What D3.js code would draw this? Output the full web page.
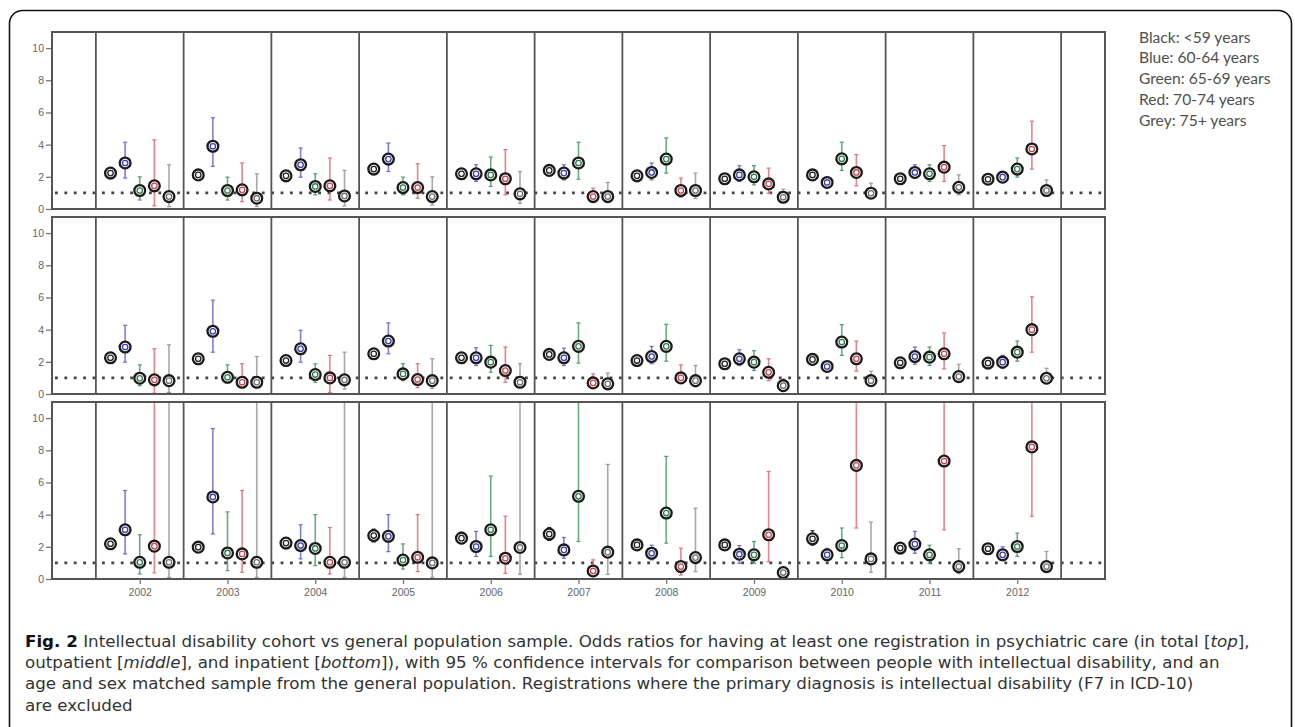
<!DOCTYPE html>
<html>
<head>
<meta charset="utf-8">
<script src="https://cdn.jsdelivr.net/npm/d3@7"></script>
<style>
  body { margin: 0; background: #fff; }
  svg { display: block; }
</style>
</head>
<body>
<svg id="chart"></svg>
<script>
const years = [2002, 2003, 2004, 2005, 2006, 2007, 2008, 2009, 2010, 2011, 2012];
const groups = ["Black", "Blue", "Green", "Red", "Grey"];
const legendLines = ["Black: <59 years", "Blue: 60-64 years", "Green: 65-69 years", "Red: 70-74 years", "Grey: 75+ years"];
const yTicks = [0, 2, 4, 6, 8, 10];

// total (top panel): one row per age group, one value per year
const totalOR = [
  [2.23, 2.12, 2.06, 2.48, 2.19, 2.4, 2.06, 1.88, 2.12, 1.88, 1.85],
  [2.86, 3.9, 2.75, 3.1, 2.19, 2.23, 2.27, 2.12, 1.65, 2.27, 1.98],
  [1.15, 1.15, 1.4, 1.33, 2.12, 2.86, 3.1, 2.0, 3.12, 2.19, 2.48],
  [1.44, 1.19, 1.44, 1.33, 1.88, 0.77, 1.15, 1.56, 2.27, 2.6, 3.73],
  [0.77, 0.67, 0.81, 0.77, 0.94, 0.77, 1.15, 0.73, 0.98, 1.35, 1.15]
];
const totalLo = [
  [2.0, 1.9, 1.85, 2.25, 1.95, 2.15, 1.85, 1.7, 1.9, 1.7, 1.65],
  [1.92, 2.65, 1.98, 2.33, 1.71, 1.81, 1.81, 1.71, 1.45, 1.92, 1.7],
  [0.56, 0.56, 0.88, 0.88, 1.4, 1.85, 2.23, 1.5, 2.4, 1.71, 1.98],
  [0.2, 0.46, 0.56, 0.67, 0.88, 0.56, 0.73, 0.98, 1.44, 1.71, 2.48],
  [0.15, 0.15, 0.19, 0.25, 0.35, 0.56, 0.65, 0.46, 0.73, 0.88, 0.81]
];
const totalHi = [
  [2.45, 2.35, 2.3, 2.7, 2.45, 2.65, 2.3, 2.05, 2.35, 2.05, 2.05],
  [4.15, 5.67, 3.79, 4.1, 2.75, 2.75, 2.86, 2.69, 1.9, 2.75, 2.3],
  [2.0, 1.98, 2.19, 1.98, 3.23, 4.15, 4.42, 2.69, 4.15, 2.75, 3.17],
  [4.3, 2.86, 3.17, 2.81, 3.69, 1.29, 1.92, 2.54, 3.38, 3.94, 5.46],
  [2.75, 2.19, 2.4, 2.0, 2.33, 1.65, 2.23, 1.23, 1.6, 2.12, 1.81]
];

// outpatient (middle panel)
const outOR = [
  [2.25, 2.19, 2.08, 2.5, 2.25, 2.46, 2.08, 1.88, 2.15, 1.94, 1.92],
  [2.92, 3.9, 2.81, 3.29, 2.25, 2.25, 2.33, 2.19, 1.71, 2.33, 1.98],
  [0.98, 1.04, 1.21, 1.25, 1.98, 2.96, 2.96, 1.98, 3.23, 2.29, 2.6],
  [0.88, 0.73, 1.0, 0.9, 1.46, 0.69, 1.0, 1.35, 2.19, 2.5, 4.0],
  [0.83, 0.73, 0.88, 0.83, 0.73, 0.63, 0.83, 0.52, 0.83, 1.08, 0.98]
];
const outLo = [
  [2.0, 1.95, 1.85, 2.25, 2.0, 2.2, 1.85, 1.7, 1.95, 1.75, 1.72],
  [1.98, 2.6, 1.98, 2.5, 1.77, 1.77, 1.88, 1.77, 1.5, 1.85, 1.6],
  [0.52, 0.69, 0.73, 0.83, 1.35, 1.92, 2.04, 1.46, 2.4, 1.77, 2.04],
  [0.05, 0.4, 0.1, 0.4, 0.73, 0.44, 0.73, 0.83, 1.42, 1.56, 2.6],
  [0.1, 0.4, 0.3, 0.35, 0.4, 0.4, 0.44, 0.3, 0.58, 0.8, 0.75]
];
const outHi = [
  [2.5, 2.45, 2.3, 2.75, 2.5, 2.7, 2.3, 2.05, 2.4, 2.15, 2.12],
  [4.27, 5.83, 3.96, 4.42, 2.87, 2.85, 2.96, 2.75, 1.95, 2.92, 2.4],
  [1.81, 1.81, 1.88, 1.88, 3.02, 4.42, 4.33, 2.69, 4.31, 2.92, 3.29],
  [2.81, 1.88, 2.4, 1.88, 2.92, 1.25, 1.81, 2.19, 3.29, 3.79, 6.04],
  [3.06, 2.33, 2.6, 2.19, 1.88, 1.3, 1.77, 0.94, 1.42, 1.85, 1.6]
];

// inpatient (bottom panel), upper limits of 15 run off the top of the panel
const inOR = [
  [2.19, 1.98, 2.23, 2.7, 2.54, 2.79, 2.12, 2.12, 2.5, 1.92, 1.88],
  [3.06, 5.1, 2.08, 2.65, 2.02, 1.81, 1.6, 1.54, 1.5, 2.17, 1.5],
  [1.04, 1.62, 1.9, 1.18, 3.06, 5.14, 4.1, 1.5, 2.08, 1.5, 2.02],
  [2.04, 1.56, 1.04, 1.35, 1.29, 0.5, 0.77, 2.75, 7.06, 7.33, 8.21],
  [1.04, 1.04, 1.04, 1.0, 1.96, 1.67, 1.33, 0.4, 1.25, 0.77, 0.77]
];
const inLo = [
  [1.9, 1.7, 1.95, 2.3, 2.2, 2.4, 1.9, 1.9, 2.1, 1.7, 1.6],
  [1.56, 2.8, 1.25, 1.7, 1.4, 1.29, 1.19, 0.98, 1.2, 1.6, 1.2],
  [0.31, 0.52, 0.83, 0.62, 1.4, 2.33, 2.23, 0.98, 1.33, 0.98, 1.4],
  [0.38, 0.42, 0.31, 0.46, 0.35, 0.15, 0.25, 1.08, 3.17, 3.06, 3.9],
  [0.1, 0.1, 0.1, 0.1, 0.29, 0.29, 0.46, 0.25, 0.42, 0.33, 0.46]
];
const inHi = [
  [2.5, 2.25, 2.5, 3.1, 2.9, 3.2, 2.4, 2.4, 3.0, 2.2, 2.2],
  [5.5, 9.35, 3.37, 4.0, 2.96, 2.58, 2.1, 2.08, 1.9, 2.96, 2.0],
  [2.75, 4.17, 4.0, 2.18, 6.4, 15, 7.62, 2.33, 3.17, 2.1, 2.85],
  [15, 5.5, 3.2, 4.0, 3.9, 1.19, 1.92, 6.68, 15, 15, 15],
  [15, 15, 15, 15, 15, 7.12, 4.4, 0.6, 3.54, 1.88, 1.71]
];

const captionLines = [
  [["b", "Fig. 2"], ["n", " Intellectual disability cohort vs general population sample. Odds ratios for having at least one registration in psychiatric care (in total ["], ["i", "top"], ["n", "],"]],
  [["n", "outpatient ["], ["i", "middle"], ["n", "], and inpatient ["], ["i", "bottom"], ["n", "]), with 95 % confidence intervals for comparison between people with intellectual disability, and an"]],
  [["n", "age and sex matched sample from the general population. Registrations where the primary diagnosis is intellectual disability (F7 in ICD-10)"]],
  [["n", "are excluded"]]
];

const width = 1295;
const height = 727;
const panelLeft = 52;
const panelRight = 1105;
const panelTops = [32, 217, 402];
const panelHeight = 177;

const markColor = ["#222222", "#3d3db0", "#2f7d4f", "#c8444f", "#6f6f6f"];
const barColor = ["#333333", "#6b6bd0", "#4f9f6c", "#e0707c", "#9a9a9a"];

const svg = d3.select("#chart").attr("width", width).attr("height", height);

// outer rounded frame
svg.append("rect")
  .attr("x", 9.5).attr("y", 10.5)
  .attr("width", 1282).attr("height", 730)
  .attr("rx", 13)
  .attr("fill", "none")
  .attr("stroke", "#111")
  .attr("stroke-width", 1.6);

const x = d3.scaleLinear().domain([2001, 2013]).range([panelLeft, panelRight]);

const panels = [
  { or: totalOR, lo: totalLo, hi: totalHi },
  { or: outOR, lo: outLo, hi: outHi },
  { or: inOR, lo: inLo, hi: inHi }
];

panels.forEach((p, pi) => {
  const top = panelTops[pi];
  const y = d3.scaleLinear().domain([0, 11]).range([top + panelHeight, top]);
  const g = svg.append("g");

  const clipId = "clip" + pi;
  svg.append("clipPath").attr("id", clipId)
    .append("rect")
    .attr("x", panelLeft).attr("y", top)
    .attr("width", panelRight - panelLeft).attr("height", panelHeight);

  // y axis
  const yAxis = d3.axisLeft(y).tickValues(yTicks).tickSize(6).tickPadding(2);
  const ay = g.append("g")
    .attr("transform", "translate(" + panelLeft + ",0)")
    .call(yAxis);
  ay.select(".domain").remove();
  ay.selectAll("line").attr("stroke", "#777").attr("stroke-width", 1.3);
  ay.selectAll("text")
    .attr("fill", "#666")
    .style("font-family", "'Liberation Sans', Arial, sans-serif")
    .style("font-size", "10.5px");

  // dotted reference line at 1
  g.append("line")
    .attr("x1", panelLeft + 3).attr("x2", panelRight - 2)
    .attr("y1", y(1)).attr("y2", y(1))
    .attr("stroke", "#444")
    .attr("stroke-width", 2.6)
    .attr("stroke-dasharray", "2.8,6.6");

  // year separators
  g.selectAll(".sep")
    .data(years.concat([2013]))
    .enter()
    .append("line")
    .attr("class", "sep")
    .attr("x1", (d) => x(d - 0.5)).attr("x2", (d) => x(d - 0.5))
    .attr("y1", top).attr("y2", top + panelHeight)
    .attr("stroke", "#555")
    .attr("stroke-width", 1.8);

  // points and intervals
  const pts = [];
  groups.forEach((grp, gi) => {
    years.forEach((yr, yi) => {
      pts.push({
        gi: gi,
        cx: x(yr + (gi - 2) / 6),
        or: p.or[gi][yi],
        lo: p.lo[gi][yi],
        hi: p.hi[gi][yi]
      });
    });
  });

  const bars = g.append("g").attr("clip-path", "url(#" + clipId + ")");
  bars.selectAll(".ci")
    .data(pts)
    .enter()
    .append("line")
    .attr("class", "ci")
    .attr("x1", (d) => d.cx).attr("x2", (d) => d.cx)
    .attr("y1", (d) => y(d.lo)).attr("y2", (d) => y(d.hi))
    .attr("stroke", (d) => barColor[d.gi])
    .attr("stroke-width", 1.6)
    .attr("opacity", 0.85);

  ["lo", "hi"].forEach((k) => {
    bars.selectAll(".cap" + k)
      .data(pts)
      .enter()
      .append("line")
      .attr("x1", (d) => d.cx - 2).attr("x2", (d) => d.cx + 2)
      .attr("y1", (d) => y(d[k])).attr("y2", (d) => y(d[k]))
      .attr("stroke", (d) => barColor[d.gi])
      .attr("stroke-width", 1.2);
  });

  g.selectAll(".pt")
    .data(pts)
    .enter()
    .append("circle")
    .attr("cx", (d) => d.cx).attr("cy", (d) => y(d.or))
    .attr("r", 5.4)
    .attr("fill", "#fff")
    .attr("stroke", "#1a1a1a")
    .attr("stroke-width", 2.3);

  g.selectAll(".pti")
    .data(pts)
    .enter()
    .append("circle")
    .attr("cx", (d) => d.cx).attr("cy", (d) => y(d.or))
    .attr("r", 2.7)
    .attr("fill", "none")
    .attr("stroke", (d) => markColor[d.gi])
    .attr("stroke-width", 1.3);

  // panel border
  g.append("rect")
    .attr("x", panelLeft).attr("y", top)
    .attr("width", panelRight - panelLeft).attr("height", panelHeight)
    .attr("fill", "none")
    .attr("stroke", "#555")
    .attr("stroke-width", 2);

  // x axis under bottom panel
  if (pi === 2) {
    const xAxis = d3.axisBottom(x).tickValues(years).tickFormat(d3.format("d")).tickSize(5).tickPadding(5);
    const ax = g.append("g")
      .attr("transform", "translate(0," + (top + panelHeight) + ")")
      .call(xAxis);
    ax.select(".domain").remove();
    ax.selectAll("line").attr("stroke", "#777").attr("stroke-width", 1.3);
    ax.selectAll("text")
      .attr("fill", "#666")
      .style("font-family", "'Liberation Sans', Arial, sans-serif")
      .style("font-size", "10.5px");
  }
});

// legend
svg.append("g")
  .selectAll("text")
  .data(legendLines)
  .enter()
  .append("text")
  .attr("x", 1139)
  .attr("y", (d, i) => 42.5 + i * 20.8)
  .attr("fill", "#505050")
  .style("font-family", "Lato, sans-serif")
  .style("font-size", "15.6px")
  .text((d) => d);

// caption
const cap = svg.append("g")
  .style("font-family", "'DejaVu Sans', sans-serif")
  .style("font-size", "16.7px")
  .attr("fill", "#333");

captionLines.forEach((line, li) => {
  const t = cap.append("text")
    .attr("x", 25)
    .attr("y", 647 + li * 21.2);
  line.forEach((part) => {
    t.append("tspan")
      .attr("font-weight", part[0] === "b" ? "bold" : null)
      .attr("font-style", part[0] === "i" ? "italic" : null)
      .attr("fill", part[0] === "b" ? "#111" : null)
      .text(part[1]);
  });
});
</script>
</body>
</html>
